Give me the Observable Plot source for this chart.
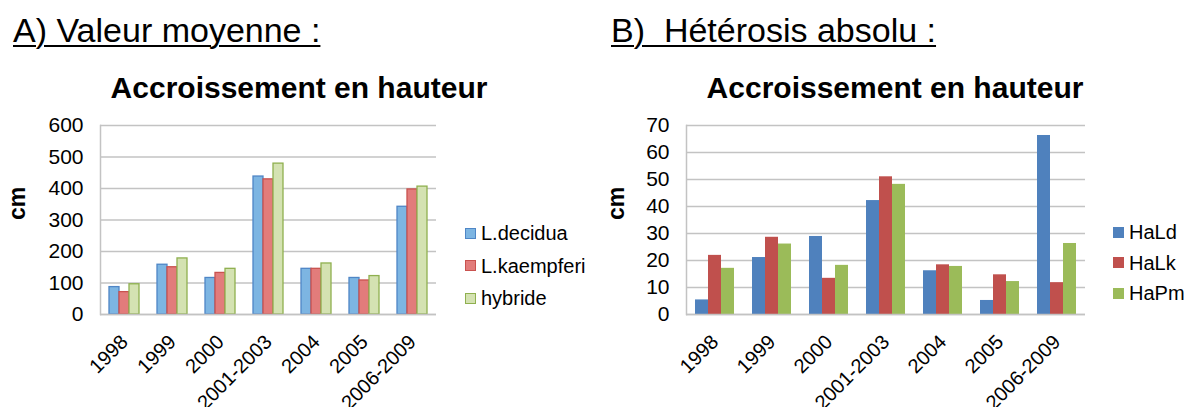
<!DOCTYPE html>
<html><head><meta charset="utf-8">
<script src="https://cdn.jsdelivr.net/npm/d3@7"></script>
<script src="https://cdn.jsdelivr.net/npm/@observablehq/plot@0.6"></script>
<style>
html,body{margin:0;padding:0;background:#fff;}
body{width:1186px;height:407px;position:relative;overflow:hidden;font-family:"Liberation Sans",Arial,sans-serif;color:#000;}
.title{position:absolute;top:13px;font-size:34px;line-height:34px;text-decoration:underline;text-decoration-thickness:2px;text-underline-offset:3px;white-space:pre;}
.sub{position:absolute;top:73px;width:500px;text-align:center;font-size:30px;line-height:30px;font-weight:bold;white-space:pre;}
.chart{position:absolute;top:110px;}
.legend{position:absolute;font-size:20px;line-height:24px;}
.row{position:absolute;left:0;display:flex;align-items:center;height:24px;white-space:pre;}
.sw{width:11px;height:11px;box-sizing:border-box;margin-right:5px;}
</style>
</head><body>
<div class="title" style="left:13px">A) Valeur moyenne :</div>
<div class="title" style="left:611px">B)  Hétérosis absolu :</div>
<div class="sub" style="left:49px">Accroissement en hauteur</div>
<div class="sub" style="left:645px">Accroissement en hauteur</div>
<div id="chartA" class="chart" style="left:0px"></div>
<div id="chartB" class="chart" style="left:600px"></div>
<div id="legendA" class="legend" style="left:465px;top:221px"></div>
<div id="legendB" class="legend" style="left:1113px;top:220px"></div>
<script>
// ---- data ----
const categories = ["1998", "1999", "2000", "2001-2003", "2004", "2005", "2006-2009"];

const seriesA = ["L.decidua", "L.kaempferi", "hybride"];
const decidua    = [87, 158, 116, 438, 145, 116, 342];
const kaempferi  = [71, 150, 132, 429, 145, 108, 397];
const hybride    = [96, 178, 145, 479, 162, 122, 406];
const ticksA = [0, 100, 200, 300, 400, 500, 600];

const seriesB = ["HaLd", "HaLk", "HaPm"];
const haLd = [5.4, 21.1, 28.9, 42.2, 16.2, 5.2, 66.3];
const haLk = [21.9, 28.6, 13.4, 51.0, 18.4, 14.7, 11.8];
const haPm = [17.1, 26.1, 18.2, 48.2, 17.8, 12.2, 26.3];
const ticksB = [0, 10, 20, 30, 40, 50, 60, 70];

// ---- styles ----
const fillsA = ["#7db5e2", "#e27c7b", "#d4e2b2"];
const strokesA = ["#4f86c6", "#c9524f", "#8fb04f"];
const fillsB = ["#4f81bd", "#c0504d", "#9bbb59"];
const gridColor = "#c3c3c3";
const font = "Liberation Sans, Arial, sans-serif";

function makeChart({values, series, fills, strokes, yMax, yTicks, width, marginLeft, marginRight, paddingOuter, strokeWidth, cmDx}) {
  const data = categories.flatMap((cat, i) => series.map((s, j) => ({cat, series: s, value: values[j][i], fill: fills[j], stroke: strokes[j]})));
  return Plot.plot({
    width, height: 297, marginLeft, marginRight, marginTop: 15, marginBottom: 93,
    style: {fontFamily: font, fontSize: "20px", color: "#000", background: "transparent", overflow: "visible"},
    fx: {domain: categories, padding: 0, axis: null, label: null},
    x: {domain: series, paddingInner: 0, paddingOuter, axis: null},
    y: {domain: [0, yMax], axis: null},
    color: {type: "identity"},
    marks: [
      Plot.gridY(yTicks, {stroke: gridColor, strokeOpacity: 1, strokeWidth: 1.5}),
      Plot.frame({anchor: "left", facet: "super", stroke: gridColor, strokeWidth: 1.5}),
      Plot.barY(data, {fx: "cat", x: "series", y: "value", fill: "fill", stroke: "stroke", strokeWidth}),
      Plot.ruleY([0], {stroke: gridColor, strokeWidth: 1.5}),
      Plot.axisY(yTicks, {tickSize: 0, tickPadding: 17, tickFormat: d => String(d), label: null, fontSize: 21}),
      Plot.text(["cm"], {frameAnchor: "left", rotate: -90, dx: cmDx, fontSize: 23, fontWeight: "bold", facet: "super"}),
      Plot.axisFx({anchor: "bottom", tickRotate: -45, tickSize: 0, tickPadding: 24, label: null, fontSize: 20})
    ]
  });
}

document.getElementById("chartA").append(makeChart({
  values: [decidua, kaempferi, hybride], series: seriesA, fills: fillsA, strokes: strokesA,
  yMax: 600, yTicks: ticksA, width: 600, marginLeft: 98, marginRight: 162, paddingOuter: 0.71, strokeWidth: 1.3, cmDx: -83
}));
document.getElementById("chartB").append(makeChart({
  values: [haLd, haLk, haPm], series: seriesB, fills: fillsB, strokes: fillsB,
  yMax: 70, yTicks: ticksB, width: 586, marginLeft: 85, marginRight: 100, paddingOuter: 0.65, strokeWidth: 0, cmDx: -70
}));

function legend(id, series, fills, strokes, spacing) {
  const el = document.getElementById(id);
  series.forEach((s, i) => {
    const row = document.createElement("div");
    row.className = "row";
    row.style.top = (i * spacing) + "px";
    const sw = document.createElement("span");
    sw.className = "sw";
    sw.style.background = fills[i];
    sw.style.border = "1.3px solid " + strokes[i];
    const t = document.createElement("span");
    t.textContent = s;
    row.append(sw, t);
    el.append(row);
  });
}
legend("legendA", seriesA, fillsA, strokesA, 32.5);
legend("legendB", seriesB, fillsB, fillsB, 30.5);
</script>
</body></html>
